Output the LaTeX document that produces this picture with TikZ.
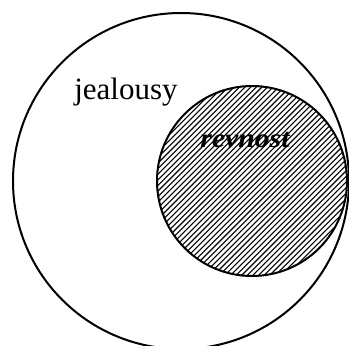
\documentclass[tikz,border=0pt]{standalone}
\usepackage{fontspec}
\setmainfont{Liberation Serif}
\begin{document}
\begin{tikzpicture}[x=1pt,y=-1pt,
  ring/.style={draw=black,line width=2pt},
  hatchline/.style={line width=1.1pt,black}]
\useasboundingbox (0,0) rectangle (349,346);
\begin{scope}
  \clip (252,181) circle (95);
  \foreach \k in {-60,...,60}{
    \draw[hatchline] ({252+\k*5.6-120},301) -- ({252+\k*5.6+120},61);
  }
\end{scope}
\node[circle,ring,minimum size=190pt,inner sep=0pt] (small) at (252,181) {};
\node[circle,ring,minimum size=336pt,inner sep=0pt] (big) at (181,181) {};
\node[font=\fontsize{31}{31}\selectfont,inner sep=0pt,anchor=base] (jeal) at (126,99) {jealousy};
\node[font=\fontsize{27}{27}\selectfont\bfseries\itshape,inner sep=0pt,anchor=base,xscale=1.1] (rev) at (245,147) {revnost};
\end{tikzpicture}
\end{document}
